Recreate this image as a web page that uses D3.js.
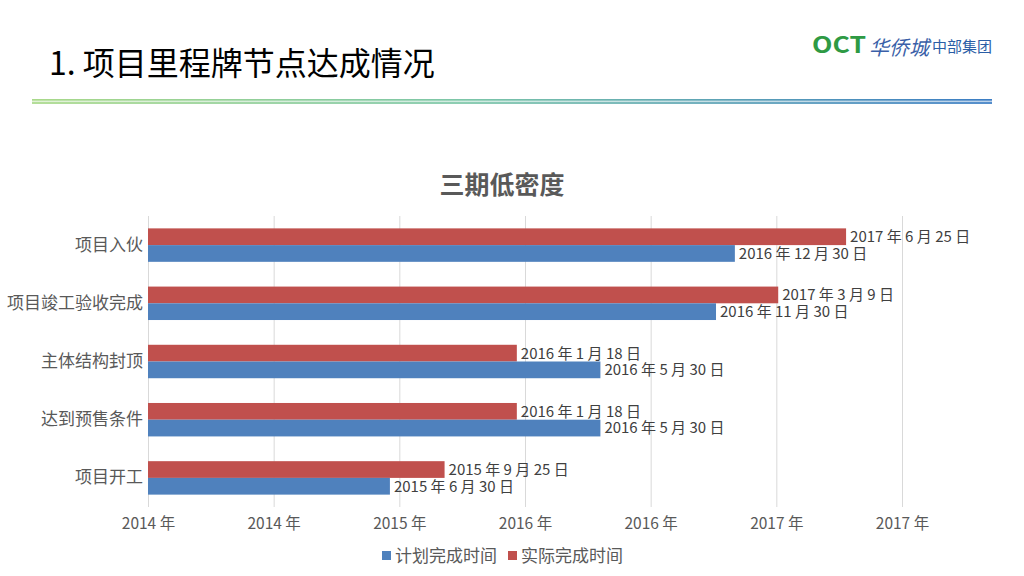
<!DOCTYPE html>
<html>
<head>
<meta charset="utf-8">
<script src="https://cdn.jsdelivr.net/npm/d3@7"></script>
<style>
  html, body { margin: 0; padding: 0; background: #fff; }
  svg { display: block; }
  text { font-family: "Noto Sans CJK SC", "Noto Sans", sans-serif; }
</style>
</head>
<body>
<svg id="chart" width="1024" height="576"></svg>
<script>
// ---------- data ----------
const categories = ["项目入伙", "项目竣工验收完成", "主体结构封顶", "达到预售条件", "项目开工"];
const seriesNames = ["计划完成时间", "实际完成时间"];
const plannedDates = ["2016-12-30", "2016-11-30", "2016-05-30", "2016-05-30", "2015-06-30"];
const actualDates  = ["2017-06-25", "2017-03-09", "2016-01-18", "2016-01-18", "2015-09-25"];
const axisDomain = ["2014-06-10", "2017-09-22"];
const tickDates  = ["2014-06-10", "2014-12-27", "2015-07-15", "2016-01-31", "2016-08-18", "2017-03-06", "2017-09-22"];
const tickLabels = ["2014 年", "2014 年", "2015 年", "2016 年", "2016 年", "2017 年", "2017 年"];
const pageTitle = "1. 项目里程牌节点达成情况";
const chartTitle = "三期低密度";

// ---------- setup ----------
const parse = d3.utcParse("%Y-%m-%d");
const fmtLabel = d => `${d.getUTCFullYear()} 年 ${d.getUTCMonth() + 1} 月 ${d.getUTCDate()} 日`;
const colors = { plan: "#4F81BD", actual: "#C0504D" };

const svg = d3.select("#chart");
const defs = svg.append("defs");

// header title
svg.append("text").attr("x", 49).attr("y", 75)
  .attr("font-size", 32).attr("fill", "#000")
  .text(pageTitle);

// logo
svg.append("text").attr("x", 812).attr("y", 53)
  .attr("font-family", "DejaVu Sans, sans-serif")
  .attr("font-weight", "bold").attr("font-size", 22)
  .attr("textLength", 54).attr("lengthAdjust", "spacingAndGlyphs")
  .attr("fill", "#2E9A44").text("OCT");
svg.append("text").attr("x", 869).attr("y", 55)
  .attr("font-size", 20).attr("font-style", "italic")
  .attr("fill", "#3A5FA8").text("华侨城");
svg.append("text").attr("x", 932).attr("y", 52)
  .attr("font-size", 15).attr("fill", "#2B5EA6").text("中部集团");

// gradient divider
const grad = defs.append("linearGradient").attr("id", "divider")
  .attr("x1", "0%").attr("x2", "100%").attr("y1", "0%").attr("y2", "0%");
grad.append("stop").attr("offset", "0%").attr("stop-color", "#A9D98A");
grad.append("stop").attr("offset", "45%").attr("stop-color", "#7CC6A8");
grad.append("stop").attr("offset", "100%").attr("stop-color", "#3C7DC4");
svg.append("rect").attr("x", 32).attr("y", 99).attr("width", 960).attr("height", 5)
  .attr("fill", "url(#divider)").attr("opacity", 0.35);
svg.append("rect").attr("x", 32).attr("y", 99).attr("width", 960).attr("height", 1.6)
  .attr("fill", "url(#divider)");
svg.append("rect").attr("x", 32).attr("y", 102.2).attr("width", 960).attr("height", 1.6)
  .attr("fill", "url(#divider)");

// chart title
svg.append("text").attr("x", 502).attr("y", 194)
  .attr("text-anchor", "middle").attr("font-size", 25).attr("font-weight", "bold")
  .attr("fill", "#595959").text(chartTitle);

// scales
const plotLeft = 148, plotRight = 902, plotTop = 216, plotBottom = 507;
const x = d3.scaleUtc().domain(axisDomain.map(parse)).range([plotLeft, plotRight]);
const y0 = d3.scaleBand().domain(categories).range([plotTop, plotBottom]).padding(0);
const y1 = d3.scaleBand().domain(["actual", "plan"]).range([0, y0.bandwidth()])
  .paddingInner(0).paddingOuter(0.74);

// gridlines + tick labels
const xAxis = d3.axisBottom(x)
  .tickValues(tickDates.map(parse))
  .tickFormat((d, i) => tickLabels[i])
  .tickSize(-(plotBottom - plotTop))
  .tickSizeOuter(0)
  .tickPadding(9);
const gx = svg.append("g").attr("transform", `translate(0,${plotBottom})`).call(xAxis);
gx.select(".domain").remove();
gx.selectAll(".tick line").attr("stroke", "#D9D9D9").attr("stroke-width", 1);
gx.selectAll(".tick text").attr("font-size", 15.5).attr("fill", "#595959")
  .attr("font-family", "Noto Sans CJK SC, sans-serif").attr("dy", "0.85em");

// category axis
const yAxis = d3.axisLeft(y0).tickSize(0).tickPadding(5);
const gy = svg.append("g").attr("transform", `translate(${plotLeft},0)`).call(yAxis);
gy.select(".domain").remove();
gy.selectAll(".tick text").attr("font-size", 17).attr("fill", "#595959")
  .attr("font-family", "Noto Sans CJK SC, sans-serif");

// bars
const rows = categories.map((c, i) => ({
  cat: c,
  plan: parse(plannedDates[i]),
  actual: parse(actualDates[i])
}));
const series = ["actual", "plan"];
const g = svg.append("g");
series.forEach(s => {
  g.selectAll(`.bar-${s}`).data(rows).join("rect")
    .attr("class", `bar-${s}`)
    .attr("x", x.range()[0])
    .attr("y", d => y0(d.cat) + y1(s))
    .attr("width", d => x(d[s]) - x.range()[0])
    .attr("height", y1.bandwidth())
    .attr("fill", colors[s]);
  g.selectAll(`.lbl-${s}`).data(rows).join("text")
    .attr("class", `lbl-${s}`)
    .attr("x", d => x(d[s]) + 4)
    .attr("y", d => y0(d.cat) + y1(s) + y1.bandwidth() / 2)
    .attr("dy", "0.36em")
    .attr("font-size", 15).attr("fill", "#404040")
    .text(d => fmtLabel(d[s]));
});

// legend
const legendItems = [
  { name: seriesNames[0], color: colors.plan, x: 382 },
  { name: seriesNames[1], color: colors.actual, x: 508 }
];
const lg = svg.append("g");
legendItems.forEach(it => {
  lg.append("rect").attr("x", it.x).attr("y", 551).attr("width", 9).attr("height", 9).attr("fill", it.color);
  lg.append("text").attr("x", it.x + 13).attr("y", 562)
    .attr("font-size", 17).attr("fill", "#595959").text(it.name);
});
</script>
</body>
</html>
